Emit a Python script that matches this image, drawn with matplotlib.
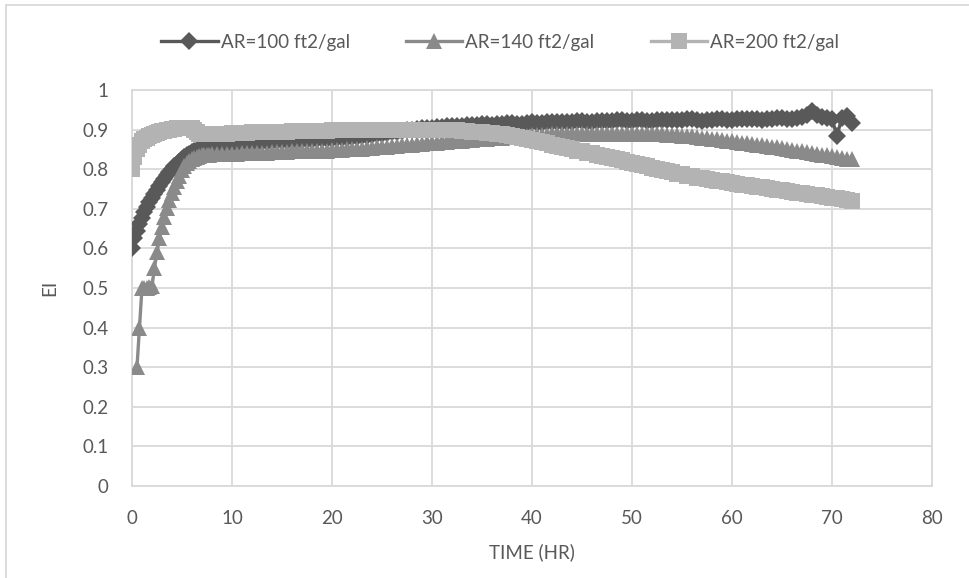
import numpy as np
import matplotlib
matplotlib.use("Agg")
import matplotlib.pyplot as plt
from matplotlib.lines import Line2D

plt.rcParams["font.family"] = ["Lato", "DejaVu Sans"]
plt.rcParams["font.size"] = 13.5

# sampling times (hr): every 15 min up to 8 hr, then every 30 min
hours = [
    0, 0.25, 0.5, 0.75, 1, 1.25, 1.5, 1.75, 2, 2.25, 2.5, 2.75, 3, 3.25, 3.5, 3.75,
    4, 4.25, 4.5, 4.75, 5, 5.25, 5.5, 5.75, 6, 6.25, 6.5, 6.75, 7, 7.25, 7.5, 7.75, 8,
    8.5, 9, 9.5, 10, 10.5, 11, 11.5, 12, 12.5, 13, 13.5, 14, 14.5, 15, 15.5, 16,
    16.5, 17, 17.5, 18, 18.5, 19, 19.5, 20, 20.5, 21, 21.5, 22, 22.5, 23, 23.5, 24,
    24.5, 25, 25.5, 26, 26.5, 27, 27.5, 28, 28.5, 29, 29.5, 30, 30.5, 31, 31.5, 32,
    32.5, 33, 33.5, 34, 34.5, 35, 35.5, 36, 36.5, 37, 37.5, 38, 38.5, 39, 39.5, 40,
    40.5, 41, 41.5, 42, 42.5, 43, 43.5, 44, 44.5, 45, 45.5, 46, 46.5, 47, 47.5, 48,
    48.5, 49, 49.5, 50, 50.5, 51, 51.5, 52, 52.5, 53, 53.5, 54, 54.5, 55, 55.5, 56,
    56.5, 57, 57.5, 58, 58.5, 59, 59.5, 60, 60.5, 61, 61.5, 62, 62.5, 63, 63.5, 64,
    64.5, 65, 65.5, 66, 66.5, 67, 67.5, 68, 68.5, 69, 69.5, 70, 70.5, 71, 71.5, 72,
]

ei_ar100 = [
    0.600, 0.625, 0.645, 0.662, 0.678, 0.692, 0.705, 0.717, 0.728, 0.738, 0.748, 0.758,
    0.767, 0.776, 0.785, 0.793, 0.800, 0.807, 0.813, 0.819, 0.825, 0.830, 0.835, 0.839,
    0.843, 0.846, 0.849, 0.852, 0.854, 0.856, 0.858, 0.859, 0.860,
    0.861, 0.862, 0.863, 0.864, 0.864, 0.865, 0.866, 0.867,
    0.867, 0.868, 0.869, 0.869, 0.870, 0.871, 0.871, 0.872,
    0.872, 0.873, 0.874, 0.874, 0.875, 0.876, 0.876, 0.877,
    0.878, 0.879, 0.880, 0.881, 0.882, 0.883, 0.885, 0.886,
    0.888, 0.889, 0.891, 0.893, 0.895, 0.897, 0.899, 0.900,
    0.902, 0.903, 0.904, 0.905, 0.906, 0.907, 0.909, 0.910,
    0.908, 0.909, 0.911, 0.912, 0.911, 0.913, 0.914, 0.912,
    0.913, 0.915, 0.916, 0.916, 0.914, 0.915, 0.917, 0.918,
    0.917, 0.917, 0.919, 0.919, 0.918, 0.918, 0.920, 0.920,
    0.921, 0.921, 0.919, 0.920, 0.922, 0.922, 0.921, 0.921,
    0.923, 0.923, 0.922, 0.922, 0.924, 0.924, 0.922, 0.921,
    0.924, 0.925, 0.923, 0.923, 0.925, 0.924, 0.926, 0.926,
    0.923, 0.922, 0.925, 0.925, 0.927, 0.927, 0.925, 0.924,
    0.926, 0.926, 0.928, 0.928, 0.926, 0.925, 0.927, 0.927,
    0.929, 0.929, 0.927, 0.926, 0.930, 0.932, 0.938, 0.946,
    0.938, 0.932, 0.930, 0.926, 0.885, 0.930, 0.934, 0.917,
]

ei_ar140 = [
    np.nan, np.nan, 0.300, 0.400, 0.500, 0.500, 0.500, 0.502, 0.505, 0.550, 0.590, 0.625,
    0.655, 0.680, 0.702, 0.722, 0.740, 0.756, 0.770, 0.784, 0.797, 0.807, 0.815, 0.821,
    0.826, 0.829, 0.832, 0.834, 0.835, 0.836, 0.837, 0.837, 0.838,
    0.838, 0.839, 0.839, 0.839, 0.839, 0.840, 0.840, 0.841,
    0.841, 0.842, 0.842, 0.843, 0.843, 0.844, 0.844, 0.845,
    0.845, 0.845, 0.845, 0.846, 0.846, 0.847, 0.847, 0.848,
    0.848, 0.849, 0.850, 0.851, 0.851, 0.852, 0.853, 0.854,
    0.855, 0.856, 0.857, 0.858, 0.859, 0.860, 0.861, 0.862,
    0.863, 0.864, 0.865, 0.866, 0.867, 0.868, 0.869, 0.870,
    0.871, 0.872, 0.873, 0.874, 0.875, 0.876, 0.877, 0.878,
    0.879, 0.880, 0.881, 0.882, 0.883, 0.884, 0.885, 0.886,
    0.886, 0.887, 0.887, 0.888, 0.888, 0.888, 0.888, 0.889,
    0.889, 0.889, 0.889, 0.890, 0.890, 0.890, 0.890, 0.890,
    0.890, 0.890, 0.890, 0.890, 0.890, 0.890, 0.889, 0.889,
    0.888, 0.888, 0.887, 0.887, 0.886, 0.885, 0.884, 0.883,
    0.881, 0.880, 0.878, 0.877, 0.875, 0.874, 0.872, 0.871,
    0.869, 0.867, 0.865, 0.864, 0.862, 0.860, 0.858, 0.857,
    0.855, 0.853, 0.851, 0.849, 0.847, 0.845, 0.843, 0.841,
    0.839, 0.837, 0.835, 0.833, 0.831, 0.829, 0.827, 0.825,
]

ei_ar200 = [
    0.800, 0.830, 0.850, 0.862, 0.870, 0.876, 0.880, 0.884, 0.887, 0.890, 0.892, 0.894,
    0.896, 0.897, 0.899, 0.900, 0.901, 0.902, 0.903, 0.904, 0.904, 0.905, 0.905, 0.905,
    0.904, 0.898, 0.893, 0.890, 0.889, 0.889, 0.889, 0.889, 0.889,
    0.889, 0.890, 0.890, 0.891, 0.891, 0.892, 0.892, 0.893,
    0.893, 0.894, 0.894, 0.895, 0.895, 0.895, 0.895, 0.896,
    0.896, 0.896, 0.896, 0.897, 0.897, 0.897, 0.897, 0.898,
    0.898, 0.898, 0.898, 0.898, 0.898, 0.899, 0.899, 0.899,
    0.899, 0.899, 0.899, 0.899, 0.899, 0.899, 0.899, 0.899,
    0.899, 0.899, 0.899, 0.899, 0.899, 0.898, 0.898, 0.898,
    0.898, 0.897, 0.896, 0.895, 0.894, 0.893, 0.892, 0.891,
    0.889, 0.888, 0.886, 0.884, 0.882, 0.879, 0.877, 0.874,
    0.871, 0.868, 0.865, 0.862, 0.859, 0.856, 0.853, 0.850,
    0.847, 0.845, 0.842, 0.840, 0.837, 0.834, 0.831, 0.828,
    0.825, 0.822, 0.819, 0.816, 0.813, 0.810, 0.807, 0.804,
    0.801, 0.798, 0.795, 0.792, 0.789, 0.787, 0.784, 0.782,
    0.779, 0.777, 0.775, 0.773, 0.771, 0.769, 0.767, 0.765,
    0.763, 0.761, 0.759, 0.757, 0.755, 0.754, 0.752, 0.750,
    0.748, 0.747, 0.745, 0.743, 0.741, 0.740, 0.738, 0.736,
    0.734, 0.732, 0.730, 0.728, 0.726, 0.724, 0.722, 0.720,
]

labels = ["AR=100 ft2/gal", "AR=140 ft2/gal", "AR=200 ft2/gal"]
colors = ["#595959", "#8a8a8a", "#b3b3b3"]
markers = ["D", "^", "s"]
sizes = [9.5, 12, 11]

fig = plt.figure(figsize=(9.69, 5.78), dpi=100)
ax = fig.add_axes([0.1362, 0.1592, 0.8256, 0.6851])

for vals, lab, col, mk, ms, z in zip(
    [ei_ar100, ei_ar140, ei_ar200], labels, colors, markers, sizes, [3, 4, 5]
):
    ax.plot(hours, vals, color=col, lw=2.4, marker=mk, markersize=ms,
            markeredgewidth=0, label=lab, zorder=z)

ax.set_xlim(0, 80)
ax.set_ylim(0, 1)
ax.set_xticks(range(0, 81, 10))
ax.set_yticks(np.arange(0, 1.01, 0.1))
ax.set_yticklabels(["0", "0.1", "0.2", "0.3", "0.4", "0.5", "0.6", "0.7", "0.8", "0.9", "1"])
ax.grid(True, color="#d9d9d9", lw=1.3, zorder=0)
ax.set_axisbelow(True)
for s in ax.spines.values():
    s.set_color("#d9d9d9")
    s.set_linewidth(1.3)
ax.tick_params(axis="x", length=0, colors="#595959", labelsize=13.5, pad=17)
ax.tick_params(axis="y", length=0, colors="#595959", labelsize=13.5, pad=17)
ax.set_xlabel("TIME (HR)", color="#595959", fontsize=13.5, labelpad=12)
ax.set_ylabel("EI", color="#595959", fontsize=13.5, labelpad=17)

fig.legend(loc="center", bbox_to_anchor=(0.516, 0.927), ncol=3, frameon=False,
           numpoints=1, handlelength=3.0, columnspacing=3.0, handletextpad=0.16,
           labelcolor="#595959", fontsize=13.5)

# chart-area border (cropped at right and bottom)
fig.add_artist(Line2D([6 / 969, 6 / 969], [0, 1 - 5 / 578], transform=fig.transFigure,
                      color="#d9d9d9", lw=1.3))
fig.add_artist(Line2D([6 / 969, 1], [1 - 5 / 578, 1 - 5 / 578], transform=fig.transFigure,
                      color="#d9d9d9", lw=1.3))

fig.savefig("out.png", dpi=100)
